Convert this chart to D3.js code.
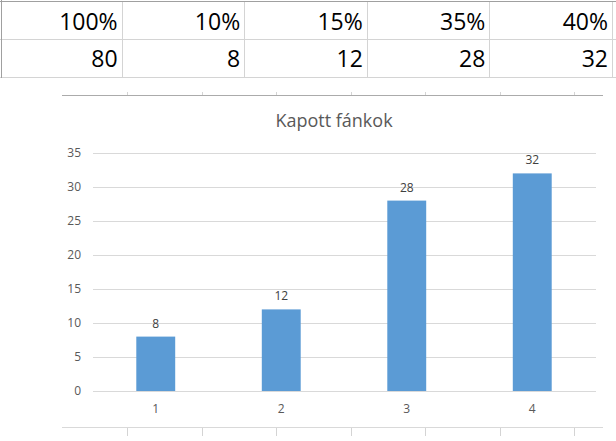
<!DOCTYPE html>
<html>
<head>
<meta charset="utf-8">
<script src="https://cdn.jsdelivr.net/npm/d3@7"></script>
<style>
  body { margin: 0; background: #fff; }
  svg { display: block; font-family: "Open Sans", sans-serif; }
</style>
</head>
<body>
<div id="chart"></div>
<script>
// table cells (top of the sheet)
const percentRow = ["100%", "10%", "15%", "35%", "40%"];
const countRow = [80, 8, 12, 28, 32];

// chart data
const categories = ["1", "2", "3", "4"];
const donuts = [8, 12, 28, 32];
const chartTitle = "Kapott fánkok";

const w = 616;
const h = 441;

let svg = d3.select("#chart")
            .append("svg")
            .attr("width", w)
            .attr("height", h);

// ---- spreadsheet table ----
let colEdge = d3.scaleBand().domain(d3.range(percentRow.length)).range([0, 613]);

// vertical cell lines (right edge of each column)
svg.selectAll("line.vcell")
   .data(d3.range(percentRow.length))
   .enter().append("line")
   .attr("x1", d => Math.round(colEdge(d) + colEdge.bandwidth()) - 0.5)
   .attr("x2", d => Math.round(colEdge(d) + colEdge.bandwidth()) - 0.5)
   .attr("y1", 2).attr("y2", 78)
   .attr("stroke", "#d4d4d4");

svg.append("line").attr("x1", 0).attr("x2", 616).attr("y1", 39.5).attr("y2", 39.5).attr("stroke", "#d4d4d4");
svg.append("line").attr("x1", 0).attr("x2", 616).attr("y1", 77.5).attr("y2", 77.5).attr("stroke", "#d4d4d4");
svg.append("line").attr("x1", 0).attr("x2", 616).attr("y1", 1.5).attr("y2", 1.5).attr("stroke", "#a0a0a0");
svg.append("line").attr("x1", 1.5).attr("x2", 1.5).attr("y1", 0).attr("y2", 78).attr("stroke", "#a0a0a0");

svg.selectAll("text.pct")
   .data(percentRow)
   .enter().append("text")
   .attr("class", "pct")
   .attr("x", (d, i) => colEdge(i) + colEdge.bandwidth() - 5)
   .attr("y", 30)
   .attr("text-anchor", "end")
   .style("font-size", "23px")
   .style("fill", "#000")
   .text(d => d);

svg.selectAll("text.cnt")
   .data(countRow)
   .enter().append("text")
   .attr("class", "cnt")
   .attr("x", (d, i) => colEdge(i) + colEdge.bandwidth() - 5)
   .attr("y", 67)
   .attr("text-anchor", "end")
   .style("font-size", "23px")
   .style("fill", "#000")
   .text(d => d);

// ---- chart frame (with the sheet's column lines poking out) ----
let sheetCols = d3.range(7).map(i => 127 + i * 74.5);

svg.append("line").attr("x1", 62).attr("x2", 603).attr("y1", 95.5).attr("y2", 95.5).attr("stroke", "#ababab");
svg.append("line").attr("x1", 62).attr("x2", 603).attr("y1", 427.5).attr("y2", 427.5).attr("stroke", "#d9d9d9");

svg.selectAll("line.topcol")
   .data(sheetCols)
   .enter().append("line")
   .attr("x1", d => Math.round(d) + 0.5).attr("x2", d => Math.round(d) + 0.5)
   .attr("y1", 92).attr("y2", 95)
   .attr("stroke", "#d4d4d4");

svg.selectAll("line.botcol")
   .data(sheetCols)
   .enter().append("line")
   .attr("x1", d => Math.round(d) + 0.5).attr("x2", d => Math.round(d) + 0.5)
   .attr("y1", 428).attr("y2", 436)
   .attr("stroke", "#d4d4d4");

// ---- bar chart ----
let x = d3.scaleBand()
          .domain(categories)
          .range([93, 595])
          .paddingInner(0.69)
          .paddingOuter(0.345);

let y = d3.scaleLinear()
          .domain([0, 35])
          .range([391, 153]);

// horizontal gridlines + y labels
let yAxis = d3.axisLeft(y)
              .tickValues(d3.range(0, 36, 5))
              .tickSize(-(596 - 93))
              .tickPadding(12);

let gy = svg.append("g")
            .attr("transform", "translate(93,0)")
            .call(yAxis);
gy.select(".domain").remove();
gy.selectAll(".tick line").attr("stroke", "#d9d9d9");
gy.selectAll(".tick text")
  .attr("fill", "#595959")
  .style("font-size", "12px")
  .style("font-family", "'Open Sans', sans-serif");

// x labels
let xAxis = d3.axisBottom(x).tickSize(0).tickPadding(13);
let gx = svg.append("g")
            .attr("transform", "translate(0,391)")
            .call(xAxis);
gx.select(".domain").remove();
gx.selectAll(".tick text")
  .attr("fill", "#595959")
  .style("font-size", "12px")
  .style("font-family", "'Open Sans', sans-serif");

svg.selectAll("rect.bar")
   .data(donuts)
   .enter().append("rect")
   .attr("class", "bar")
   .attr("x", (d, i) => x(categories[i]))
   .attr("y", d => y(d))
   .attr("width", x.bandwidth())
   .attr("height", d => y(0) - y(d))
   .attr("fill", "#5b9bd5");

svg.selectAll("text.lbl")
   .data(donuts)
   .enter().append("text")
   .attr("class", "lbl")
   .attr("x", (d, i) => x(categories[i]) + x.bandwidth() / 2)
   .attr("y", d => y(d) - 9)
   .attr("text-anchor", "middle")
   .style("font-size", "12px")
   .style("fill", "#404040")
   .text(d => d);

svg.append("text")
   .attr("x", 334)
   .attr("y", 127)
   .attr("text-anchor", "middle")
   .style("font-size", "18px")
   .style("fill", "#595959")
   .text(chartTitle);
</script>
</body>
</html>
